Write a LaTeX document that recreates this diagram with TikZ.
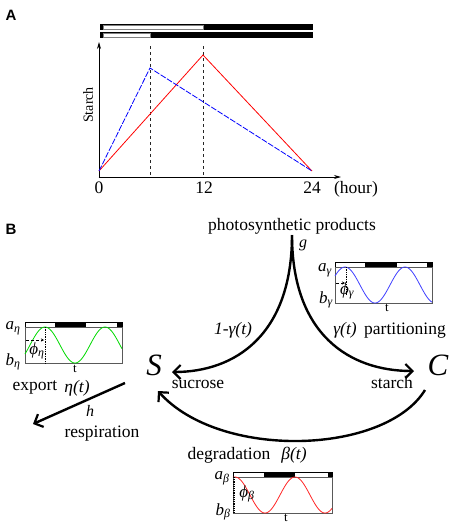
\documentclass[tikz,border=0pt]{standalone}
\usepackage{fontspec}
\setmainfont{Liberation Serif}
\newfontfamily\headfont{Liberation Sans}
\usetikzlibrary{arrows.meta}
\begin{document}
\begin{tikzpicture}[x=1pt,y=-1pt,
  lbl/.style={inner sep=0pt, font=\fontsize{17.5}{20}\selectfont},
  ilbl/.style={inner sep=0pt, font=\itshape\fontsize{17.5}{20}\selectfont},
  big/.style={inner sep=0pt, font=\itshape\fontsize{31}{34}\selectfont},
  head/.style={inner sep=0pt, font=\headfont\bfseries\fontsize{15}{18}\selectfont},
  tick/.style={inner sep=0pt, font=\fontsize{17.5}{20}\selectfont},
  flow/.style={line width=2.4pt, -{Straight Barb[length=7pt,width=14pt,line width=2.2pt]}},
  frame/.style={draw=gray!70!black, line width=0.6pt},
  sublbl/.style={inner sep=0pt, font=\itshape\fontsize{17}{19}\selectfont},
  tlbl/.style={inner sep=0pt, font=\fontsize{13}{15}\selectfont},
  guide/.style={densely dotted, line width=0.7pt},
  shiftarr/.style={densely dashed, line width=0.6pt, -{Stealth[length=3pt,width=3pt]}}
]
\useasboundingbox (0,0) rectangle (454,531);

% ---------------- Panel A ----------------
\node[head] (labA) at (11,15) {A};
\fill (100,24) rectangle (313,30);
\filldraw[fill=white,draw=gray] (103,25.3) rectangle (203,28.7);
\fill (100,32) rectangle (313,38);
\filldraw[fill=white,draw=gray] (103,33.3) rectangle (150,36.7);

\draw[line width=0.9pt, dashed, gray!30!black] (150,46) -- (150,177);
\draw[line width=0.9pt, dashed, gray!30!black] (203,46) -- (203,177);

\draw[line width=0.7pt, -{Stealth[length=7pt,width=4pt]}] (99,178) -- (99,42);
\draw[line width=0.7pt, -{Stealth[length=7pt,width=4pt]}] (98.6,177) -- (341,177);

\draw[red, line width=0.8pt] (99,171) -- (203,55) -- (312,171);
\draw[blue, line width=0.8pt, dash pattern=on 6pt off 1.5pt] (99,171) -- (150,68) -- (312,171);

\node[tick] (t0) at (99,188) {0};
\node[tick] (t12) at (204,188) {12};
\node[tick] (t24) at (312,188) {24};
\node[tick] (hour) at (356,189) {(hour)};
\node[inner sep=0pt, rotate=90, font=\fontsize{14}{16}\selectfont] (starchax) at (88,105) {Starch};

% ---------------- Panel B ----------------
\node[head] (labB) at (11,229) {B};
\node[lbl] (prod) at (292,226) {photosynthetic products};
\coordinate (cusp) at (292,235);
\node[inner sep=0pt, font=\itshape\fontsize{16}{18}\selectfont] (g) at (303,245) {g};

\node[big] (S) at (154,365) {S};
\node[big] (C) at (438,365) {C};

\coordinate (Sarr) at (172,372);
\coordinate (Carr) at (414,371);
\coordinate (Cout) at (425,390);
\coordinate (Sbot) at (158,391);
\coordinate (rstart) at (125,383);
\coordinate (rend) at (33,424);

\draw[flow] (cusp) .. controls (292,335) and (235,372) .. (Sarr);
\draw[flow] (cusp) .. controls (292,335) and (350,371) .. (Carr);
\draw[flow] (Cout) .. controls (385,455) and (220,460) .. (Sbot);
\draw[flow] (rstart) -- (rend);

\node[ilbl] (oneminus) at (233,330) {1-γ(t)};
\node[ilbl] (gam) at (345,330) {γ(t)};
\node[lbl] (part) at (405,331) {partitioning};
\node[lbl] (sucr) at (198,384) {sucrose};
\node[lbl] (starch) at (392,383) {starch};
\node[lbl] (degr) at (229,455) {degradation};
\node[ilbl] (bet) at (294,455) {β(t)};
\node[lbl] (expo) at (35,387) {export};
\node[ilbl] (eta) at (77,388) {η(t)};
\node[inner sep=0pt, font=\itshape\fontsize{16}{18}\selectfont] (h) at (90,411) {h};
\node[lbl] (resp) at (102,434) {respiration};

% ---- inset eta (green) ----
\begin{scope}[shift={(25,327)}]
  \filldraw[fill=white, draw=black, line width=0.5pt] (0,-4.5) rectangle (97,0);
  \fill (30,-4.5) rectangle (61,0);
  \fill (92,-4.5) rectangle (97,0);
  \draw[frame] (0,0) rectangle (97,36);
  \draw[green!85!black, line width=0.8pt] plot[domain=0:97, samples=90, smooth] (\x, {18-18*cos(6*(\x-20))});
  \draw[guide] (20,0) -- (20,36);
  \draw[shiftarr] (1,13) -- (19,13);
\end{scope}
\node[sublbl] (aeta) at (13,328) {a\textsubscript{η}};
\node[sublbl] (beta) at (13,362) {b\textsubscript{η}};
\node[sublbl] (phieta) at (37,351) {ϕ\textsubscript{η}};
\node[tlbl] (teta) at (75,369) {t};

% ---- inset gamma (blue) ----
\begin{scope}[shift={(335,267)}]
  \filldraw[fill=white, draw=black, line width=0.5pt] (0,-4.5) rectangle (97,0);
  \fill (30,-4.5) rectangle (62,0);
  \fill (92,-4.5) rectangle (97,0);
  \draw[frame] (0,0) rectangle (97,36);
  \draw[blue!75!white, line width=0.8pt] plot[domain=0:97, samples=90, smooth] (\x, {18-18*cos(6*(\x-10))});
  \draw[guide] (11,0) -- (11,28);
  \draw[shiftarr] (1,16) -- (10,16);
\end{scope}
\node[sublbl] (agam) at (325,270) {a\textsubscript{γ}};
\node[sublbl] (bgam) at (326,300) {b\textsubscript{γ}};
\node[sublbl] (phigam) at (347,291) {ϕ\textsubscript{γ}};
\node[tlbl] (tgam) at (387,308) {t};

% ---- inset beta (red) ----
\begin{scope}[shift={(233,477)}]
  \filldraw[fill=white, draw=black, line width=0.5pt] (0,-4.5) rectangle (99,0);
  \fill (31,-4.5) rectangle (62,0);
  \fill (95,-4.5) rectangle (99,0);
  \draw[frame] (0,0) rectangle (99,36);
  \draw[red!85!white, line width=0.8pt] plot[domain=0:99, samples=90, smooth] (\x, {18-18*cos(6*(\x-2))});
  \draw[guide, line width=1.2pt] (1,0) -- (1,36);
\end{scope}
\node[sublbl] (abet) at (222,478) {a\textsubscript{β}};
\node[sublbl] (bbet) at (223,512) {b\textsubscript{β}};
\node[sublbl] (phibet) at (247,494) {ϕ\textsubscript{β}};
\node[tlbl] (tbet) at (286,518) {t};
\end{tikzpicture}
\end{document}
